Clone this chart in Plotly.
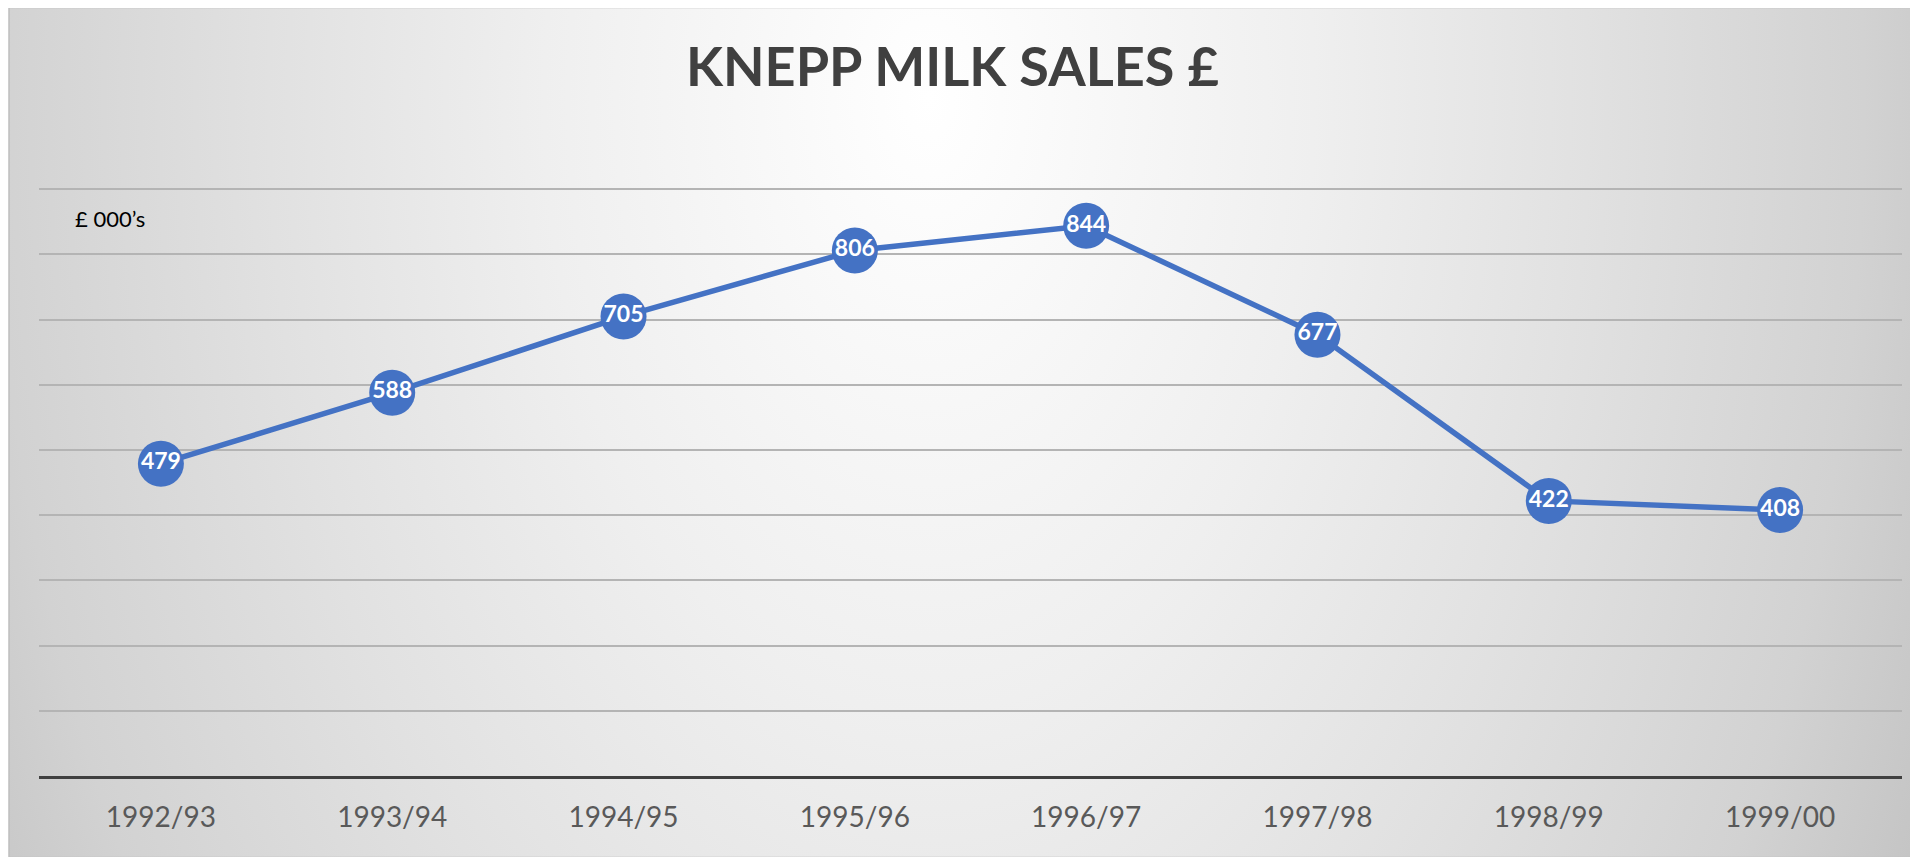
import base64
import plotly.graph_objects as go

# ---- data ----
seasons = ["1992/93", "1993/94", "1994/95", "1995/96", "1996/97", "1997/98", "1998/99", "1999/00"]
sales_k = [479, 588, 705, 806, 844, 677, 422, 408]
title_text = "KNEPP MILK SALES £"
unit_label = "£ 000’s"

# page has an 8px body margin; figure coordinates are page - 8
W, H = 1910, 849
PL, PR = 31, 1894
PB = 767.7
P900 = 181.6            # pixel row of value 900 (top gridline)
YMAX = 905
PT = PB - (PB - P900) * YMAX / 900
pw, ph = PR - PL, PB - PT

# chart box (gradient background) in figure pixels
BX0, BX1, BY0, BY1 = 1, 1909, 0, 849


def px_to_paper_x(x):
    return (x - PL) / pw


def px_to_paper_y(y):
    return (PB - y) / ph


svg = (
    '<svg xmlns="http://www.w3.org/2000/svg" width="1908" height="849" '
    'viewBox="0 0 1908 849" preserveAspectRatio="none">'
    '<defs><radialGradient id="g" gradientUnits="userSpaceOnUse" cx="920" cy="90" r="1100" '
    'fx="920" fy="90" gradientTransform="translate(920 90) scale(1 1.6) translate(-920 -90)">'
    '<stop offset="0" stop-color="#ffffff"/>'
    '<stop offset="0.35" stop-color="#efefef"/>'
    '<stop offset="0.6" stop-color="#e1e1e1"/>'
    '<stop offset="0.85" stop-color="#d2d2d2"/>'
    '<stop offset="1" stop-color="#c4c4c4"/>'
    '</radialGradient></defs>'
    '<rect x="0" y="0" width="1908" height="849" fill="url(#g)"/></svg>'
)
svg_uri = "data:image/svg+xml;base64," + base64.b64encode(svg.encode()).decode()

fig = go.Figure()
fig.add_trace(
    go.Scatter(
        x=seasons,
        y=sales_k,
        mode="lines+markers+text",
        text=[str(v) for v in sales_k],
        textposition="middle center",
        textfont=dict(family="Lato", size=23, color="white", weight="bold"),
        line=dict(color="#4472C4", width=5.5),
        marker=dict(size=46, color="#4472C4", line=dict(width=0)),
        cliponaxis=False,
        hoverinfo="x+y",
    )
)

fig.update_layout(
    width=W,
    height=H,
    margin=dict(l=PL, r=W - PR, t=PT, b=H - PB, pad=0),
    paper_bgcolor="white",
    plot_bgcolor="rgba(0,0,0,0)",
    showlegend=False,
    font=dict(family="Lato", color="#595959"),
    xaxis=dict(
        showgrid=False,
        showline=True,
        linecolor="#404040",
        linewidth=3,
        ticks="outside",
        ticklen=14,
        tickcolor="rgba(0,0,0,0)",
        tickfont=dict(family="Lato", size=28, color="#595959"),
        zeroline=False,
        fixedrange=True,
    ),
    yaxis=dict(
        range=[0, YMAX],
        dtick=100,
        showgrid=True,
        gridcolor="#b4b4b4",
        gridwidth=2,
        showticklabels=False,
        zeroline=False,
        showline=False,
        fixedrange=True,
    ),
    images=[
        dict(
            source=svg_uri,
            xref="paper",
            yref="paper",
            x=px_to_paper_x(BX0),
            y=px_to_paper_y(BY0),
            sizex=(BX1 - BX0) / pw,
            sizey=(BY1 - BY0) / ph,
            xanchor="left",
            yanchor="top",
            sizing="stretch",
            layer="below",
        )
    ],
    shapes=[
        dict(
            type="rect",
            xref="paper",
            yref="paper",
            x0=px_to_paper_x(BX0),
            x1=px_to_paper_x(BX1),
            y0=px_to_paper_y(BY1),
            y1=px_to_paper_y(BY0),
            line=dict(color="#bfbfbf", width=1.5),
            fillcolor="rgba(0,0,0,0)",
            layer="below",
        )
    ],
    annotations=[
        dict(
            text=title_text,
            xref="paper",
            yref="paper",
            x=px_to_paper_x(944),
            y=px_to_paper_y(58),
            xanchor="center",
            yanchor="middle",
            showarrow=False,
            font=dict(family="Lato", size=54, color="#404040", weight="bold"),
        ),
        dict(
            text=unit_label,
            xref="paper",
            yref="paper",
            x=px_to_paper_x(65),
            y=px_to_paper_y(211),
            xanchor="left",
            yanchor="middle",
            showarrow=False,
            font=dict(family="Lato", size=22, color="black"),
        ),
    ],
)

fig.write_html("out.html")
